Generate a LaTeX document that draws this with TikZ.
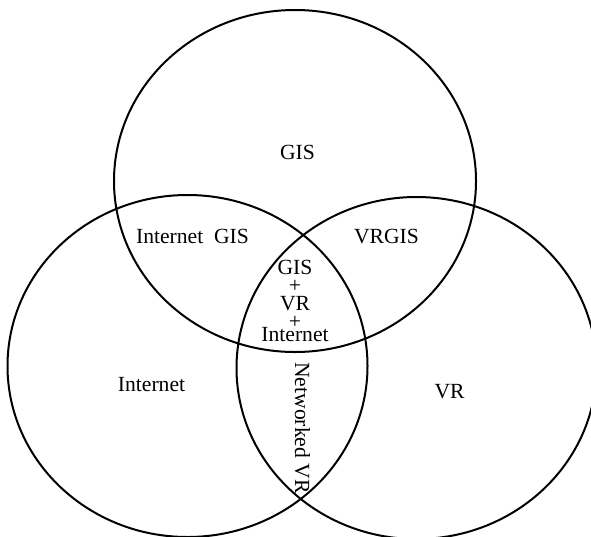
\documentclass[tikz,border=0pt]{standalone}
\usepackage{fontspec}
\setmainfont{Liberation Serif}
\begin{document}
\begin{tikzpicture}[x=0.75pt,y=0.75pt,yscale=-1,xscale=1,
  lbl/.style={anchor=base,inner sep=0.75pt,font=\fontsize{16.2}{18}\selectfont}]
\useasboundingbox (0,0) rectangle (591,536);

%Shape: Ellipse [GIS]
\draw [line width=1.5] (295,181) ellipse [x radius=181, y radius=171];
%Shape: Ellipse [Internet]
\draw [line width=1.5] (187.5,366) ellipse [x radius=180, y radius=171];
%Shape: Ellipse [VR]
\draw [line width=1.5] (416.5,368) ellipse [x radius=180, y radius=171];

% Text Node
\node [lbl] (gis) at (297.5,159.5) {GIS};
\node [lbl] (internetgis) at (192.5,243.5) {Internet\ \ GIS};
\node [lbl] (vrgis) at (386.5,243.5) {VRGIS};
\node [lbl] (core) at (295,274.5) {GIS};
\node [lbl] (plusa) at (295,292) {+};
\node [lbl] (corevr) at (295,310.5) {VR};
\node [lbl] (plusb) at (295,328) {+};
\node [lbl] (coreinternet) at (295,341.5) {Internet};
\node [lbl] (internet) at (151.5,391.5) {Internet};
\node [lbl] (vr) at (449.5,398.5) {VR};
\node [lbl,anchor=center,rotate=-90] (networkedvr) at (302.5,428) {Networked VR};

\end{tikzpicture}
\end{document}
